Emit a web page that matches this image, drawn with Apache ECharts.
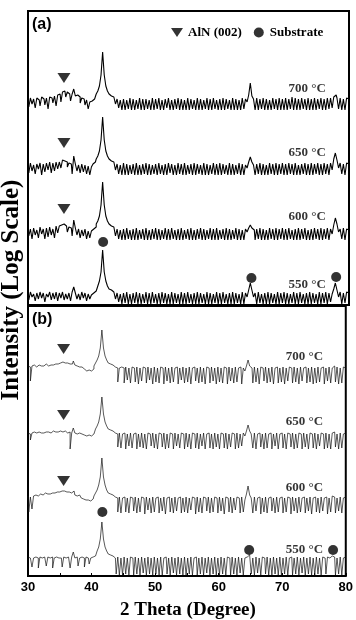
<!DOCTYPE html>
<html><head><meta charset="utf-8">
<script src="https://cdn.jsdelivr.net/npm/echarts@6/dist/echarts.min.js"></script>
<style>html,body{margin:0;padding:0;background:#fff}#c{width:356px;height:620px}</style>
</head><body><div id="c"></div>
<script>
// 2θ sampling of the scans: 30° to 80°, one reading every 0.25°
const thetaStart = 30, thetaStep = 0.25;
const temps = ['700 °C', '650 °C', '600 °C', '550 °C'];

// Panel (a) — log-intensity readings relative to each scan's baseline
const a700 = [
 1,-7,2,-4,1,-8,2,0,-6,3,1,-5,2,-9,3,2,-3,4,-6,5,
 6,-2,8,9,3,8,6,-1,6,11,4,5,3,-3,2,1,-5,0,-9,-2,
 -1,1,3,6,9,14,25,48,25,14,9,6,4,3,2,-4,1,-8,0,-10,
 1,-10,0,-9,2,-10,1,-10,0,-9,2,-10,1,-10,1,-9,0,-10,2,-10,
 1,-9,2,-10,0,-10,1,-8,2,-10,0,-10,1,-9,2,-10,1,-10,0,-10,
 2,-10,1,-9,0,-10,2,-10,1,-10,0,-9,2,-10,1,-10,2,-9,0,-10,
 1,-10,2,-10,1,-9,0,-10,2,-10,1,-10,0,-10,2,-9,1,-2,5,17,
 4,1,-10,2,-10,1,-9,2,-10,1,-10,0,-10,2,-9,1,-10,2,-10,1,
 -10,2,-10,1,-9,3,-10,2,-10,1,-10,2,-9,1,-10,2,-10,1,-10,2,
 -10,1,-9,2,-10,1,-10,2,-9,2,-8,3,5,2,-9,2,-10,1,-10,2,
 1];
const a650 = [
 1,-8,2,-6,0,-9,1,-4,2,-10,1,-7,2,-5,3,-8,2,-6,3,-4,
 3,-3,5,4,3,-2,2,1,-9,9,1,-6,0,-8,1,-7,0,-9,-1,-10,
 -2,1,3,6,9,14,25,48,25,14,9,6,4,3,1,-5,1,-9,0,-10,
 2,-10,1,-10,0,-9,1,-10,2,-10,0,-10,1,-9,2,-10,1,-10,0,-9,
 1,-10,2,-9,0,-10,1,-10,2,-8,1,-10,0,-10,2,-9,1,-10,2,-10,
 0,-9,1,-10,2,-10,1,-9,0,-10,2,-10,1,-10,0,-9,2,-10,1,-10,
 2,-10,1,-9,0,-10,2,-10,1,-10,0,-9,2,-10,1,-10,0,-3,3,8,
 3,0,-10,1,-9,2,-10,1,-10,0,-10,2,-9,1,-10,2,-10,1,-9,2,
 -10,1,-10,2,-9,1,-10,2,-10,0,-10,1,-9,2,-10,1,-10,2,-10,1,
 -9,2,-10,1,-10,2,-9,1,-10,2,-5,6,12,5,-3,2,-9,1,-10,2,
 1];
const a600 = [
 2,-6,1,-9,2,-5,0,-8,3,-4,1,-9,2,-7,3,-5,1,-8,4,-3,
 4,5,6,5,4,-2,3,2,-6,10,2,-5,1,-8,0,-6,1,-9,-1,-8,
 -1,1,3,6,9,14,25,48,25,14,9,6,4,3,1,-6,1,-9,0,-10,
 1,-10,2,-9,0,-10,1,-10,2,-10,0,-9,1,-10,2,-10,0,-10,1,-9,
 2,-10,1,-10,0,-9,2,-10,1,-10,2,-9,0,-10,1,-10,2,-10,0,-9,
 1,-10,2,-10,0,-10,1,-9,2,-10,1,-10,0,-9,2,-10,1,-10,2,-10,
 0,-9,1,-10,2,-10,1,-10,0,-9,2,-10,1,-10,0,-10,1,-2,2,5,
 2,0,-10,1,-9,2,-10,1,-10,0,-10,2,-9,1,-10,2,-10,1,-9,2,
 -10,1,-10,2,-9,0,-10,1,-10,2,-10,1,-9,2,-10,0,-10,1,-10,2,
 -9,1,-10,2,-10,1,-9,2,-10,1,-4,5,12,6,-2,1,-9,2,-10,1,
 0];
const a550 = [
 1,-6,2,-3,0,-7,1,-5,2,-4,1,-8,0,-3,2,-6,1,-5,2,-7,
 1,-4,2,-6,0,-5,1,-7,2,7,1,-5,0,-6,2,-4,1,-7,0,-5,
 -1,1,3,5,8,13,22,44,22,13,8,5,4,2,1,-5,1,-8,0,-10,
 1,-9,2,-10,0,-10,1,-9,2,-10,1,-10,0,-9,2,-10,1,-10,2,-9,
 0,-10,1,-10,2,-9,1,-10,0,-10,2,-10,1,-9,0,-10,2,-10,1,-10,
 2,-9,0,-10,1,-10,2,-10,1,-9,0,-10,2,-10,1,-10,0,-9,2,-10,
 1,-10,2,-9,0,-10,1,-10,2,-10,1,-9,0,-10,2,-10,1,-3,4,11,
 4,-3,1,-10,2,-9,0,-10,1,-10,2,-10,1,-9,0,-10,2,-10,1,-9,
 2,-10,1,-10,0,-9,2,-10,1,-10,2,-9,0,-10,1,-10,2,-10,1,-9,
 0,-10,2,-10,1,-9,2,-10,1,-8,0,5,11,4,-3,2,-10,1,-9,2,
 1];

// Panel (b)
const b700 = [
 2,1,-13,2,3,1,2,3,2,3,2,4,3,2,3,4,3,4,5,4,
 5,5,6,5,4,5,4,3,4,7,3,2,1,0,1,-1,-2,-3,-2,-3,
 -3,-1,2,5,8,12,20,38,20,12,8,5,4,3,2,1,0,-14,0,1,
 0,-15,1,-12,0,-15,1,0,-14,1,-16,0,-13,1,0,-15,1,-12,0,-16,
 1,-14,0,-15,1,0,-16,1,-13,0,-15,1,-14,0,1,-16,0,-12,1,-15,
 0,-14,1,-16,0,1,-13,0,-15,1,-14,0,-16,1,0,-15,1,-13,0,-16,
 1,-14,0,-15,1,0,-16,1,-13,0,-15,1,-14,0,1,-16,0,-3,2,8,
 2,0,-15,1,-14,0,-16,1,0,-13,1,-15,0,-14,1,-16,0,1,-15,0,
 -14,1,-16,0,-13,1,0,-15,1,-14,0,-16,1,-13,0,1,-15,0,-14,1,
 -16,0,-15,1,-14,0,1,-16,0,-13,1,-15,0,2,-14,1,-16,0,-15,1,
 0];
const b650 = [
 1,0,-6,1,2,1,0,2,1,2,1,2,3,2,1,2,3,2,3,2,
 3,3,2,3,2,1,2,-15,1,6,1,0,1,-1,0,-1,0,-2,-1,-2,
 -2,0,2,5,8,12,20,37,20,12,8,5,4,3,2,1,0,-13,1,-14,
 0,1,-15,0,-12,1,-14,0,1,-15,0,-13,1,-14,0,-15,1,0,-12,1,
 -14,0,-15,1,0,-13,1,-15,0,-14,1,0,-15,1,-12,0,-14,1,0,-15,
 1,-13,0,-15,1,0,-14,1,-15,0,-12,1,-15,0,1,-14,0,-15,1,-13,
 0,-15,1,0,-14,1,-15,0,-13,1,0,-15,1,-14,0,-12,1,-2,3,9,
 3,0,-14,1,-15,0,1,-13,0,-15,1,-14,0,1,-15,0,-12,1,-15,0,
 1,-14,0,-15,1,0,-13,1,-15,0,-14,1,0,-15,1,-13,0,-15,1,0,
 -14,1,-15,0,-12,1,0,-15,1,-14,0,-15,1,2,-13,0,-15,1,-14,0,
 1];
const b600 = [
 2,-14,1,-11,2,3,2,3,4,3,4,5,4,5,4,5,6,5,6,5,
 6,7,6,7,6,5,6,5,4,7,3,2,3,1,0,-1,-2,-3,-2,-3,
 -3,-1,2,5,8,13,21,40,21,13,8,5,4,3,2,1,0,-14,1,-15,
 0,1,-14,0,-15,1,0,-13,1,-15,0,-14,1,0,-16,1,-12,0,-15,1,
 -14,0,1,-15,0,-13,1,-16,0,1,-14,0,-15,1,-13,0,1,-15,0,-14,
 1,-15,0,-12,1,0,-16,1,-14,0,-15,1,0,-13,1,-15,0,-14,1,0,
 -15,1,-13,0,-16,1,0,-14,1,-15,0,-12,1,0,-15,1,-14,-2,4,12,
 3,0,-15,1,-13,0,1,-16,0,-14,1,-15,0,1,-13,0,-15,1,-14,0,
 1,-15,0,-14,1,0,-16,1,-13,0,-15,1,-14,0,1,-15,0,-13,1,-16,
 0,1,-14,0,-15,1,-13,0,1,-16,0,-14,2,1,-15,0,-13,1,-15,0,
 1];
const b550 = [
 1,0,1,-9,0,1,0,-10,1,0,1,0,-8,1,0,1,-10,0,1,0,
 1,0,-9,1,0,1,0,-10,1,6,0,1,-8,0,1,0,-9,1,0,-6,
 0,1,2,4,7,11,19,36,19,11,7,4,3,2,1,0,-16,1,-17,0,
 -17,1,-16,0,-17,1,0,-17,1,-16,0,-17,1,-15,0,-17,1,-16,0,-17,
 1,-16,0,-17,1,-17,0,1,-16,0,-17,1,-15,0,-17,1,-16,0,-17,1,
 -17,0,-16,1,-17,0,1,-17,0,-16,1,-17,0,-15,1,-17,0,-16,1,-17,
 0,-17,1,-16,0,-17,1,0,-17,1,-16,0,-17,1,-15,0,-17,0,1,3,
 1,-16,0,-17,1,-15,0,-17,1,0,-16,1,-17,0,-17,1,-16,0,-17,1,
 -17,0,-16,1,-17,0,1,-17,0,-16,1,-17,0,-15,1,-17,0,-16,1,-17,
 0,-17,1,-16,0,-17,1,0,-16,1,0,2,3,1,-17,0,-16,1,-17,0,
 1];

// vertical stacking offsets of the scans (700, 650, 600, 550 °C)
const offsetsA = [205, 140, 75, 11];
const offsetsB = [208, 142, 78, 18];
// peak markers: 2θ positions and heights above the baseline
const alnPos = 35.6;
const subPos = [41.7, 64.8, 78.0];
const alnHeightA = [22, 22, 21];
const alnHeightB = [19, 19, 17];
const subHeightA = [52, 16, 17];
const subHeightB = [46, 8, 8];
// temperature tag positions
const tagPos = 73.5;
const tagHeightA = [11, 12, 13, 9];
const tagHeightB = [11, 12, 10, 8];

const scansA = [a700, a650, a600, a550];
const scansB = [b700, b650, b600, b550];

function pairs(arr, off) { return arr.map((v, i) => [thetaStart + i * thetaStep, v + off]); }

const serif = '"Liberation Serif","Times New Roman",serif';
const sans = '"Liberation Sans",Arial,sans-serif';
const downTri = 'path://M0,0 L12,0 L6,9 Z';

const series = [];
[[scansA, offsetsA, 0, 1.1, '#000'], [scansB, offsetsB, 1, 0.7, '#111']].forEach(([scans, offs, g, w, c]) => {
  scans.forEach((s, k) => series.push({
    type: 'line', xAxisIndex: g, yAxisIndex: g, data: pairs(s, offs[k]), step: 'middle',
    showSymbol: false, silent: true, lineStyle: { color: c, width: w }, z: 2
  }));
});
// AlN markers
series.push({ name: 'AlN (002)', type: 'scatter', xAxisIndex: 0, yAxisIndex: 0, symbol: downTri,
  symbolSize: [13, 10], itemStyle: { color: '#000' }, z: 5,
  data: alnHeightA.map((h, k) => [alnPos, offsetsA[k] + h]) });
series.push({ name: 'AlN (002)', type: 'scatter', xAxisIndex: 1, yAxisIndex: 1, symbol: downTri,
  symbolSize: [13, 10], itemStyle: { color: '#000' }, z: 5,
  data: alnHeightB.map((h, k) => [alnPos, offsetsB[k] + h]) });
// Substrate markers (on 550 °C scans)
series.push({ name: 'Substrate', type: 'scatter', xAxisIndex: 0, yAxisIndex: 0, symbol: 'circle', symbolSize: 10,
  itemStyle: { color: '#000' }, z: 5, data: subPos.map((p, k) => [p, offsetsA[3] + subHeightA[k]]) });
series.push({ name: 'Substrate', type: 'scatter', xAxisIndex: 1, yAxisIndex: 1, symbol: 'circle', symbolSize: 10,
  itemStyle: { color: '#000' }, z: 5, data: subPos.map((p, k) => [p, offsetsB[3] + subHeightB[k]]) });
// temperature tags
[[tagHeightA, offsetsA, 0], [tagHeightB, offsetsB, 1]].forEach(([hs, offs, g]) => {
  series.push({ type: 'scatter', xAxisIndex: g, yAxisIndex: g, symbolSize: 0, silent: true, z: 6,
    label: { show: true, position: 'inside', formatter: p => p.name, color: '#000',
      fontFamily: serif, fontWeight: 'bold', fontSize: 13 },
    data: temps.map((t, k) => ({ name: t, value: [tagPos, offs[k] + hs[k]] })) });
});

const xCommon = {
  type: 'value', min: 30, max: 80, interval: 5,
  axisLine: { show: false }, splitLine: { show: false },
  axisTick: { inside: true, length: 3, lineStyle: { color: '#000', width: 1 } }
};

const chart = echarts.init(document.getElementById('c'), null, { renderer: 'canvas' });
chart.setOption({
  animation: false,
  backgroundColor: '#fff',
  grid: [
    { left: 28, top: 11, width: 321, height: 294, show: true, borderColor: '#000', borderWidth: 2 },
    { left: 28, top: 306, width: 321, height: 270, show: true, borderColor: '#000', borderWidth: 2 }
  ],
  xAxis: [
    Object.assign({ gridIndex: 0, axisLabel: { show: false } }, xCommon, { axisTick: { show: false } }),
    Object.assign({ gridIndex: 1, axisLabel: { show: true, margin: 5, color: '#000', fontFamily: sans,
      fontWeight: 'bold', fontSize: 13, formatter: v => (v % 10 === 0 ? String(v) : '') } }, xCommon)
  ],
  yAxis: [
    { type: 'value', gridIndex: 0, min: 0, max: 294, show: false, splitLine: { show: false } },
    { type: 'value', gridIndex: 1, min: 0, max: 270, show: false, splitLine: { show: false } }
  ],
  legend: {
    data: [{ name: 'AlN (002)', icon: downTri }, { name: 'Substrate', icon: 'circle' }],
    left: 166, top: 21, itemWidth: 12, itemHeight: 10, itemGap: 12,
    selectedMode: false,
    textStyle: { color: '#000', fontFamily: serif, fontWeight: 'bold', fontSize: 13 }
  },
  graphic: [
    { type: 'text', left: 32, top: 17, style: { text: '(a)', font: 'bold 16px ' + sans, fill: '#000' } },
    { type: 'text', left: 32, top: 312, style: { text: '(b)', font: 'bold 16px ' + sans, fill: '#000' } },
    { type: 'text', x: 12, y: 290, rotation: Math.PI / 2,
      style: { text: 'Intensity (Log Scale)', font: 'bold 25px ' + serif, fill: '#000', align: 'center', verticalAlign: 'middle' } },
    { type: 'text', x: 188, y: 610,
      style: { text: '2 Theta (Degree)', font: 'bold 19px ' + serif, fill: '#000', align: 'center', verticalAlign: 'middle' } }
  ],
  series: series
});
</script>
</body></html>
